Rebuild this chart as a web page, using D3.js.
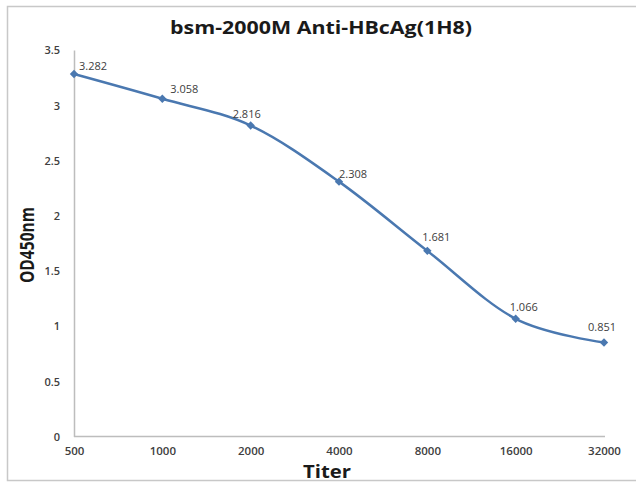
<!DOCTYPE html>
<html><head><meta charset="utf-8">
<script src="https://cdn.jsdelivr.net/npm/d3@7"></script>
<style>body{margin:0;background:#fff}svg{display:block}text{font-family:"Open Sans",sans-serif}</style>
</head><body><div id="chart"></div>
<script>
const titers = ["500","1000","2000","4000","8000","16000","32000"];
const od = [3.282, 3.058, 2.816, 2.308, 1.681, 1.066, 0.851];
const yTicks = [0, 0.5, 1, 1.5, 2, 2.5, 3, 3.5];
const labelDx = [5, 8, -18, 0, -5, -6, -16];
const labelDy = [-8, -10, -11, -7, -14, -12, -15];

const W = 636, H = 483;
const svg = d3.select("#chart").append("svg").attr("width", W).attr("height", H);
svg.append("rect").attr("x", 7.5).attr("y", 6.5).attr("width", 640).attr("height", 474)
  .attr("fill", "none").attr("stroke", "#c8c8c8").attr("stroke-width", 1.5);

const x = d3.scalePoint().domain(titers).range([74, 604]);
const y = d3.scaleLinear().domain([0, 3.5]).range([436.5, 50]);

// axes
const ya = svg.append("g").attr("transform", "translate(74,0)")
  .call(d3.axisLeft(y).tickValues(yTicks).tickSize(0).tickPadding(14).tickFormat(d3.format("")));
ya.select(".domain").attr("stroke", "#bdbdbd").attr("stroke-width", 1.5);
ya.selectAll("text").attr("font-size", 11).attr("fill", "#404040").attr("dy", "0.35em").attr("font-weight", 600);

const xa = svg.append("g").attr("transform", "translate(0,436.5)")
  .call(d3.axisBottom(x).tickSize(0).tickPadding(10));
xa.select(".domain").attr("stroke", "#bdbdbd").attr("stroke-width", 1.5).attr("d", "M74,0H605");
xa.selectAll("text").attr("font-size", 11.5).attr("fill", "#404040").attr("font-weight", 600);

// line
const line = d3.line().x((d, i) => x(titers[i])).y(d => y(d)).curve(d3.curveCatmullRom.alpha(0));
svg.append("path").datum(od).attr("d", line).attr("fill", "none")
  .attr("stroke", "#4a78b0").attr("stroke-width", 2.5);

svg.selectAll(".pt").data(od).enter().append("path")
  .attr("transform", (d, i) => `translate(${x(titers[i])},${y(d)})`)
  .attr("d", d3.symbol().type(d3.symbolDiamond2).size(45))
  .attr("fill", "#4a78b0");

svg.selectAll(".lbl").data(od).enter().append("text")
  .attr("x", (d, i) => x(titers[i]) + labelDx[i])
  .attr("y", (d, i) => y(d) + labelDy[i])
  .attr("dy", "0.35em")
  .attr("font-size", 11).attr("fill", "#404040")
  .text(d => d3.format(".3f")(d));

// titles
svg.append("text").attr("x", 170).attr("y", 28).attr("dy", "0.35em")
  .attr("font-size", 18).attr("font-weight", "bold").attr("fill", "#1a1a1a")
  .attr("textLength", 302).attr("lengthAdjust", "spacingAndGlyphs")
  .text("bsm-2000M Anti-HBcAg(1H8)");
svg.append("text").attr("x", 303).attr("y", 472).attr("dy", "0.35em")
  .attr("font-size", 17).attr("font-weight", "bold").attr("fill", "#1a1a1a")
  .attr("textLength", 48).attr("lengthAdjust", "spacingAndGlyphs").text("Titer");
svg.append("text").attr("transform", "translate(27,283) rotate(-90)").attr("dy", "0.35em")
  .attr("font-size", 19).attr("font-weight", "bold")
  .attr("textLength", 76).attr("lengthAdjust", "spacingAndGlyphs")
  .attr("fill", "#1a1a1a").text("OD450nm");
</script></body></html>
